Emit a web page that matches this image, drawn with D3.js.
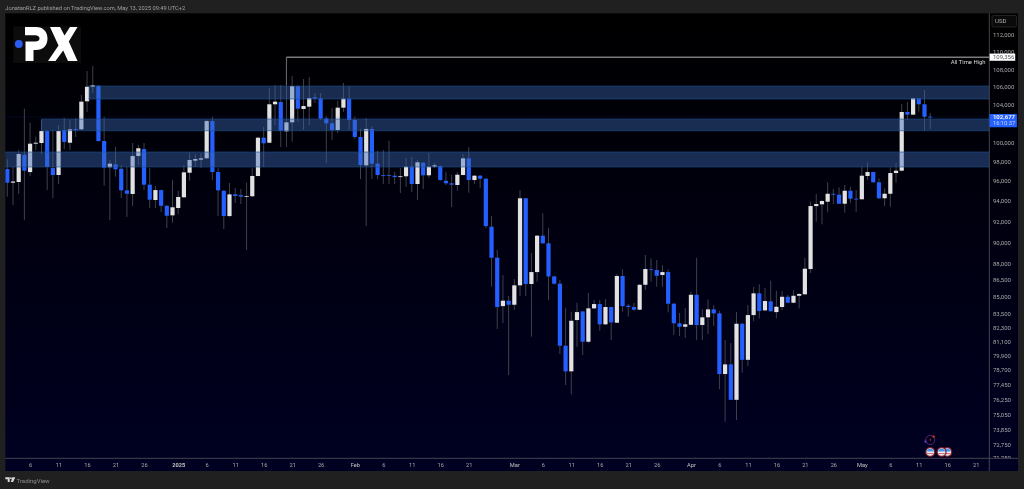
<!DOCTYPE html>
<html><head><meta charset="utf-8">
<script src="https://cdn.jsdelivr.net/npm/d3@7/dist/d3.min.js"></script>
<style>
html,body{margin:0;padding:0;background:#202020;overflow:hidden}
svg{filter:blur(.3px)}
text{font-family:Roboto,"Liberation Sans",sans-serif}
.tick line,.domain{display:none}
</style></head><body><div id="c"></div>
<script>
const opens=[97200,95810,95880,98680,96890,99830,99900,101170,97300,96590,
101280,99930,101390,101350,104390,106000,106120,100110,97380,97680,
97230,95040,94680,98540,99270,95610,94080,95070,93510,92570,
93290,94350,96820,98060,98160,98300,102240,96890,95000,92500,
94640,94550,94410,94450,96490,100460,99930,104060,104310,101140,
102100,106080,103550,103800,104830,104720,102530,102000,101280,103690,
104680,102350,100540,97580,101390,97750,96590,96590,96520,96380,
96460,97440,95680,97850,96560,97440,97510,96010,95750,95580,
96590,98300,96080,96520,96210,91470,88530,84130,84610,84250,
85990,94250,86110,87200,90610,89880,86800,86140,80690,78540,
82900,83660,81030,83930,84310,82530,84050,82670,86840,84160,
84050,83810,86040,87450,87390,86930,87200,84340,82620,82320,
82490,85140,82470,83140,83840,83490,78320,79120,76220,82580,
79500,83340,85270,83750,84550,83600,84050,84960,84430,85050,
85180,87480,93480,93650,93910,94700,94610,93710,95000,94210,
94150,96490,96890,95850,94250,94700,96790,97030,103220,102930,
104720,104060,102710];
const closes=[95810,95930,98750,97030,99830,99930,101170,97410,96590,101170,
100010,101350,101280,104350,106000,106160,100110,97330,97750,97170,
95040,94700,98540,99350,95610,94110,95070,93510,92530,93360,
94380,96860,98130,98230,98300,102240,96890,95040,92500,94640,
94480,94410,94480,96490,100460,99870,104060,104350,101200,102100,
106080,103580,103870,104750,104680,102490,102000,101280,103690,104680,
102350,100540,97610,101390,97750,96590,96520,96520,96380,96460,
97440,95680,97890,96560,97440,97580,96080,95750,95610,96620,
98300,96080,96520,96210,91530,88530,84050,84610,84250,85990,
94250,86110,87200,90610,89880,86800,86140,80690,78540,82840,
83600,81030,83930,84310,82530,84050,82700,86840,84130,84050,
83810,86040,87480,87390,86860,87200,84340,82620,82320,82530,
85140,82470,83140,83840,83490,78320,79120,76220,82580,79500,
83340,85270,83690,84580,83670,84070,84960,84430,85050,85210,
87510,93480,93680,93980,94700,94610,93710,95000,94210,94150,
96520,96890,95850,94250,94700,96790,97030,103220,102930,104720,
104060,102710,102677];
const highs=[98200,97410,99170,103580,102060,100570,102350,101280,101280,101820,
102570,102350,102570,105090,107770,108350,106190,102710,98130,99480,
97610,97410,99900,99690,99900,97300,95480,95100,93580,96080,
95000,97610,98890,98750,98850,102350,102710,97300,95070,95780,
95270,95170,95810,97270,100540,101630,105860,106190,106190,109356,
107210,106190,106870,107090,105310,105310,102790,103650,104420,106420,
106000,102710,101390,102570,101710,99090,99170,100140,96920,97300,
98340,98470,98130,97920,98850,97850,97560,96920,96590,96890,
98750,99450,96590,96590,96280,92500,89250,86930,85030,86560,
95070,94280,88970,90670,92770,91340,86830,86470,83980,83630,
84430,83690,85300,84670,84670,84760,84070,87020,87450,84310,
84400,86110,88780,88470,88310,87850,87450,84400,83520,83960,
85410,88530,83870,84730,84220,83720,81170,80920,83600,82640,
84220,85860,86080,85770,86410,85500,85470,85120,85560,85300,
88500,93910,94680,94080,95850,95170,95340,95580,95400,95070,
97440,97890,96920,96250,95240,97380,97820,104090,104310,104750,
104750,105640,103110];
const lows=[94410,93580,94680,92110,96490,99170,98750,95070,94280,95680,
99270,99170,100540,101280,103220,105310,100060,95510,92110,96420,
94280,92410,93490,97610,95070,93290,93290,92900,91340,91850,
92700,94280,96010,97410,97300,98280,96080,92530,91250,92410,
93780,93680,89250,94380,96440,97410,99900,101820,99480,99480,
100040,102170,101280,101820,104200,102350,97820,100220,100960,103220,
101280,100320,96180,91530,96180,96180,95680,95680,95680,94770,
95380,94880,94080,95170,96280,97300,96010,95580,93390,95000,
96540,94800,95680,95270,91340,85860,82120,82640,78240,83780,
85030,85030,81460,86320,89860,84670,86060,79990,77420,76660,
80600,79900,80920,83870,81970,82470,81170,82640,83630,83190,
83720,83780,85560,86320,85860,85860,83580,81600,81520,81350,
82470,81170,81170,81690,82380,77060,74480,76200,74610,78430,
78980,82810,83050,83690,83650,83050,83780,84380,84380,83930,
85160,87110,91950,91700,92870,93680,93680,92830,93810,92920,
94130,96080,95830,94180,93480,93420,95810,96940,102350,102890,
103250,101220,101390];

const priceTicks=[112000,110000,108000,106000,104000,100000,98000,96000,94000,92000,90000,88000,86500,85000,83500,82300,81100,79900,78700,77450,76250,75050,73850,72750,71750];
const dayTicks=[4,9,14,19,24,30,35,40,45,50,55,61,66,71,76,81,89,94,99,104,109,114,120,125,130,135,140,145,150,155,160,165,170];
const dayLabels=["6","11","16","21","26","2025","6","11","16","21","26","Feb","6","11","16","21","Mar","6","11","16","21","26","Apr","6","11","16","21","26","May","6","11","16","21"];
const zoneTops=[106080,102460,98960];
const zoneBottoms=[104640,101200,97410];
const zoneStarts=[14.2,5.9,-2];
const athPrice=109356, athDay=49, lastPrice=102677;
const flagDays=[162,164,165];
const econDay=162;

const W=1024,H=489;
const L=5.3,R=989.3,T=13.3,B=458.3,AR=1018,AB=471;
const fmt=d3.format(",");
const x=d3.scaleLinear().domain([0,162]).range([7.3,930.2]);
const y=d3.scaleLog().domain([112000,75050]).range([34.5,414.5]);
const svg=d3.select("#c").append("svg").attr("width",W).attr("height",H).style("display","block");
const defs=svg.append("defs");
const g=defs.append("linearGradient").attr("id","bg").attr("x1",0).attr("x2",0).attr("y1",0).attr("y2",1);
g.append("stop").attr("offset","0%").attr("stop-color","#000000");
g.append("stop").attr("offset","100%").attr("stop-color","#000022");
defs.append("clipPath").attr("id","plot").append("rect").attr("x",L).attr("y",T).attr("width",R-L).attr("height",B-T);
defs.append("clipPath").attr("id","axisclip").append("rect").attr("x",R).attr("y",T).attr("width",AR-R).attr("height",B-T);

svg.append("rect").attr("width",W).attr("height",H).attr("fill","#202020");
svg.append("rect").attr("x",L).attr("y",T).attr("width",AR-L).attr("height",AB-T).attr("fill","url(#bg)");

svg.append("text").attr("x",5.3).attr("y",10).attr("font-size",5.7).attr("fill","#a0a0a0")
 .text("JonatanRLZ published on TradingView.com, May 13, 2025 09:49 UTC+2");

const plot=svg.append("g").attr("clip-path","url(#plot)");
const idx=d3.range(opens.length);
plot.append("g").selectAll("line").data(idx).join("line")
 .attr("x1",i=>x(i)).attr("x2",i=>x(i)).attr("y1",i=>y(highs[i])).attr("y2",i=>y(lows[i]))
 .attr("stroke","#46474f").attr("stroke-width",.9);
plot.append("g").selectAll("rect").data(idx).join("rect")
 .attr("x",i=>x(i)-2.1).attr("width",4.2)
 .attr("y",i=>y(Math.max(opens[i],closes[i])))
 .attr("height",i=>Math.max(.8,Math.abs(y(opens[i])-y(closes[i]))))
 .attr("fill",i=>closes[i]>=opens[i]?"#e2e2e2":"#2460ff");

// supply / demand zones over the candles
const zones=plot.append("g");
zoneTops.forEach((t,k)=>{
  zones.append("rect").attr("x",x(zoneStarts[k])).attr("width",R-x(zoneStarts[k]))
   .attr("y",y(t)).attr("height",y(zoneBottoms[k])-y(t))
   .attr("fill","#3b69b8").attr("fill-opacity",.42);
  zones.append("line").attr("x1",x(zoneStarts[k])).attr("x2",R).attr("y1",y(t)).attr("y2",y(t)).attr("stroke","#1f4f8f").attr("stroke-width",.6);
  zones.append("line").attr("x1",x(zoneStarts[k])).attr("x2",R).attr("y1",y(zoneBottoms[k])).attr("y2",y(zoneBottoms[k])).attr("stroke","#1f4f8f").attr("stroke-width",.6);
});
// last price line
plot.append("line").attr("x1",L).attr("x2",R).attr("y1",y(lastPrice)).attr("y2",y(lastPrice))
 .attr("stroke","#2460ff").attr("stroke-opacity",.4).attr("stroke-width",.6).attr("stroke-dasharray","1 1.5");
// ATH
plot.append("line").attr("x1",x(athDay)).attr("x2",R).attr("y1",y(athPrice)).attr("y2",y(athPrice)).attr("stroke","#b8b8b8").attr("stroke-width",1);
plot.append("line").attr("x1",x(athDay)).attr("x2",x(athDay)).attr("y1",y(athPrice)).attr("y2",y(106200)).attr("stroke","#6e6e6e").attr("stroke-width",.9);
svg.append("text").attr("x",985.6).attr("y",y(athPrice)+7).attr("text-anchor","end").attr("font-size",5.9).attr("fill","#d8d8d8").text("All Time High");

// logo
const logo=svg.append("g");
logo.append("rect").attr("x",13.3).attr("y",26.3).attr("width",67.7).attr("height",36.7).attr("fill","#0c0c0c");
logo.append("circle").attr("cx",18.8).attr("cy",44).attr("r",3.9).attr("fill","#2b5cf2");
logo.append("path").attr("fill","#fff").attr("fill-rule","evenodd")
 .attr("d","M25 27H36C43 27 47.5 31.5 47.5 38.5C47.5 45.5 43 50 36 50H33.5V61H25.5V41.5H35C38 41.5 39.5 40.5 39.5 38.5C39.5 36.5 38 35.2 35 35.2H25Z");
logo.append("path").attr("fill","#fff")
 .attr("d","M50 27H60L64.5 35.5L70 27H77.5L68.8 41.5L77.5 61H68L63.2 50.5L55.5 61H48L58.5 45.5Z");

// time axis
const xAxis=d3.axisBottom(x).tickValues(dayTicks).tickSize(0).tickPadding(0)
 .tickFormat((d,i)=>dayLabels[i]);
const ax=svg.append("g").attr("transform",`translate(0,${B+9})`).call(xAxis);
ax.selectAll("text").attr("font-size",5.7).attr("fill",(d,i)=>/^[0-9]{1,2}$/.test(dayLabels[i])?"#a8a8a8":"#c4c4c4")
 .attr("font-weight",(d,i)=>dayLabels[i]==="2025"?700:400).attr("dy",0);

// price axis
const yAxis=d3.axisRight(y).tickValues(priceTicks).tickSize(0).tickPadding(0).tickFormat(fmt);
const ay=svg.append("g").attr("clip-path","url(#axisclip)").append("g").attr("transform",`translate(${R+3.6},0)`).call(yAxis);
ay.selectAll("text").attr("font-size",6).attr("fill","#a8a8a8").attr("dy","0.35em");

// frame lines
svg.append("line").attr("x1",L).attr("x2",AR).attr("y1",B).attr("y2",B).attr("stroke","#55555f").attr("stroke-width",.8);
svg.append("line").attr("x1",R).attr("x2",R).attr("y1",T).attr("y2",AB).attr("stroke","#55555f").attr("stroke-width",.8);

// USD button
svg.append("rect").attr("x",992).attr("y",15.5).attr("width",24.5).attr("height",11.5).attr("rx",1.5).attr("fill","#0a0a0a").attr("stroke","#2e2e2e").attr("stroke-width",.7);
svg.append("text").attr("x",995).attr("y",23).attr("font-size",6).attr("fill","#b0b0b0").text("USD");

// ATH label
svg.append("rect").attr("x",R+.3).attr("y",y(athPrice)-3.6).attr("width",25.6).attr("height",7.2).attr("fill","#ffffff");
svg.append("text").attr("x",R+3.6).attr("y",y(athPrice)+2).attr("font-size",6).attr("fill","#555").text(fmt(athPrice));

// last price label
const ly=y(lastPrice);
svg.append("rect").attr("x",R+.2).attr("y",ly-3).attr("width",27.4).attr("height",13.3).attr("rx",.8).attr("fill","#2460ff");
svg.append("text").attr("x",R+3.6).attr("y",ly+2.3).attr("font-size",6).attr("font-weight",700).attr("fill","#f0f0ff").text(fmt(lastPrice));
svg.append("text").attr("x",R+3.6).attr("y",ly+8.5).attr("font-size",5.8).attr("fill","#c8d4ff").text("16:10:37");

// event markers
const ev=svg.append("g");
flagDays.slice().reverse().forEach(d=>{
  const cx=x(d), cy=452;
  ev.append("circle").attr("cx",cx).attr("cy",cy).attr("r",5.1).attr("fill","#7d1b30");
  ev.append("circle").attr("cx",cx).attr("cy",cy).attr("r",3.8).attr("fill","#eee");
  ev.append("path").attr("d",`M${cx-3.7} ${cy-.4}A3.8 3.8 0 0 1 ${cx+3.7} ${cy-.4}Z`).attr("fill","#3f93e8");
  ev.append("line").attr("x1",cx-3.2).attr("x2",cx+3.2).attr("y1",cy+1.6).attr("y2",cy+1.6).attr("stroke","#c9384a").attr("stroke-width",.8);
});
const ex=x(econDay), ey=440;
ev.append("circle").attr("cx",ex).attr("cy",ey).attr("r",4.6).attr("fill","#000018").attr("stroke","#5c2a80").attr("stroke-width",.9);
ev.append("circle").attr("cx",ex-4.8).attr("cy",ey+1.6).attr("r",1.1).attr("fill","#6a3cff");
ev.append("circle").attr("cx",ex+3.4).attr("cy",ey-3.4).attr("r",1.2).attr("fill","#e0303a");
ev.append("path").attr("d",`M${ex+.8} ${ey-2.6}L${ex-1} ${ey+.3}H${ex+.4}L${ex-.6} ${ey+2.6}L${ex+1.2} ${ey-.5}H${ex-.1}Z`).attr("fill","#a83a8a");

// footer
const tv=svg.append("g").attr("transform","translate(5.3,477.3)").attr("fill","#d8d8d8");
tv.append("path").attr("d","M0 0H4.4V4.8H2.4V2H0Z");
tv.append("circle").attr("cx",5.6).attr("cy",.9).attr("r",.9);
tv.append("path").attr("d","M7 0H10L7.8 4.8H5.6Z");
svg.append("text").attr("x",16.6).attr("y",483).attr("font-size",6).attr("fill","#8e8e8e").text("TradingView");
</script></body></html>
